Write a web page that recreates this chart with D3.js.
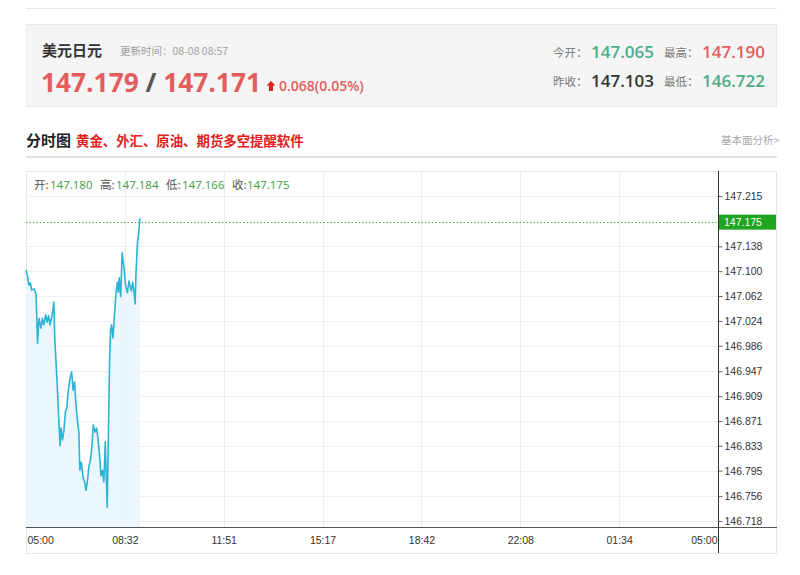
<!DOCTYPE html>
<html><head><meta charset="utf-8">
<script src="https://cdn.jsdelivr.net/npm/d3@7"></script>
<style>
html,body{margin:0;padding:0;background:#fff;}
svg{display:block;}
</style></head>
<body>
<svg id="c" width="800" height="575"></svg>
<script>
// ---- data ----
const xTickLabels = ["05:00","08:32","11:51","15:17","18:42","22:08","01:34","05:00"];
const yTickLabels = ["147.215","147.138","147.100","147.062","147.024","146.986","146.947","146.909","146.871","146.833","146.795","146.756","146.718"];
const lastPrice = 147.175;
// minutes after 05:00
const minutes = [0,3,6,9,12,17,21,24,27,31,34,37,41,44,47,50,53,56,58,60,65,68,71,73,76,79,82,85,88,92,95,98,101,104,107,110,112,115,119,122,125,128,131,134,137,140,144,147,150,153,156,159,162,165,169,172,174,176,178,181,184,187,190,192,194,197,200,204,207,211,214,219,222,225,227,229,232,234,236,237];
const prices = [147.102,147.093,147.079,147.082,147.071,147.073,147.065,146.990,147.028,147.013,147.028,147.018,147.033,147.022,147.032,147.018,147.028,147.041,147.053,146.995,146.926,146.877,146.833,146.860,146.842,146.857,146.885,146.891,146.918,146.938,146.946,146.918,146.931,146.895,146.872,146.854,146.796,146.808,146.784,146.778,146.765,146.781,146.802,146.811,146.830,146.865,146.854,146.860,146.842,146.819,146.787,146.796,146.778,146.839,146.739,146.872,146.964,147.010,147.018,146.998,147.032,147.064,147.083,147.068,147.090,147.061,147.128,147.105,147.079,147.067,147.085,147.070,147.083,147.067,147.050,147.099,147.145,147.154,147.171,147.181];
const infoLabels = ["开:","高:","低:","收:"];
const infoValues = ["147.180","147.184","147.166","147.175"];

const svg = d3.select("#c");
const CJK = "'Noto Sans CJK SC','Open Sans',sans-serif";
const NUM = "'Open Sans','Noto Sans CJK SC',sans-serif";
const RED = "#e35d5d", GREEN = "#4aad86";

// top rule
svg.append("line").attr("x1",26).attr("x2",777).attr("y1",8.5).attr("y2",8.5).attr("stroke","#e6e6e6");
// header box
svg.append("rect").attr("x",26.5).attr("y",24.5).attr("width",750).attr("height",82).attr("fill","#f5f5f5").attr("stroke","#e9e9e9");
svg.append("text").attr("x",42).attr("y",56).attr("font-family",CJK).attr("font-size",15).attr("font-weight",700).attr("fill","#333").text("美元日元");
svg.append("text").attr("x",120).attr("y",55).attr("font-family",CJK).attr("font-size",10.5).attr("fill","#a0a0a0").text("更新时间：08-08 08:57");
const big = svg.append("text").attr("x",41).attr("y",92).attr("font-family",NUM).attr("font-size",26.3).attr("font-weight",700);
big.append("tspan").attr("fill",RED).text("147.179");
big.append("tspan").attr("fill","#555").text(" / ");
big.append("tspan").attr("fill",RED).text("147.171");
// arrow
svg.append("path").attr("d","M271,81 L275.5,85.5 L273,85.5 L273,91 L269,91 L269,85.5 L266.5,85.5 Z").attr("fill","#e02020");
svg.append("text").attr("x",279).attr("y",91).attr("font-family",NUM).attr("font-size",14).attr("font-weight",600).attr("fill",RED).text("0.068(0.05%)");

function stat(x,y,label,val,col){
  svg.append("text").attr("x",x).attr("y",y).attr("font-family",CJK).attr("font-size",11.5).attr("fill","#777").text(label);
  svg.append("text").attr("x",x+38).attr("y",y+1).attr("font-family",NUM).attr("font-size",17).attr("font-weight",600).attr("fill",col).text(val);
}
stat(553,57,"今开：","147.065",GREEN);
stat(664,57,"最高：","147.190",RED);
stat(553,86,"昨收：","147.103","#333");
stat(664,86,"最低：","146.722",GREEN);

// section title
svg.append("text").attr("x",26).attr("y",146).attr("font-family",CJK).attr("font-size",15).attr("font-weight",700).attr("fill","#222").text("分时图");
svg.append("text").attr("x",76).attr("y",146).attr("font-family",CJK).attr("font-size",13.4).attr("font-weight",700).attr("fill","#e32020").text("黄金、外汇、原油、期货多空提醒软件");
svg.append("text").attr("x",721).attr("y",144).attr("font-family",CJK).attr("font-size",10.5).attr("fill","#a8a8a8").text("基本面分析>");
svg.append("line").attr("x1",26).attr("x2",777).attr("y1",157).attr("y2",157).attr("stroke","#e2e2e2").attr("stroke-width",2);

// chart panel
svg.append("rect").attr("x",26.5).attr("y",171.5).attr("width",750).attr("height",382).attr("fill","#fff").attr("stroke","#e8e8e8");

const L=26, R=718, T=171, B=527;
const x = d3.scaleLinear().domain([0,1440]).range([L,R]);
const y = d3.scaleLinear().domain([146.7104,147.2532]).range([B-1,T]);

const g = svg.append("g");
// grid
const xTickVals = xTickLabels.map((d,i)=>i*1440/(xTickLabels.length-1));
g.selectAll(".vg").data(xTickVals.slice(1,-1)).enter().append("line")
  .attr("x1",d=>Math.round(x(d))+0.5).attr("x2",d=>Math.round(x(d))+0.5).attr("y1",T).attr("y2",B)
  .attr("stroke","#ececec");
g.selectAll(".hg").data(yTickLabels).enter().append("line")
  .attr("x1",L).attr("x2",R).attr("y1",d=>Math.round(y(+d))+0.5).attr("y2",d=>Math.round(y(+d))+0.5)
  .attr("stroke","#eeeeee");

// area + line
const area = d3.area().x((d,i)=>x(minutes[i])).y0(B).y1(d=>y(d));
g.append("path").datum(prices).attr("d",area).attr("fill","#e8f6fc").attr("opacity",0.85);
const line = d3.line().x((d,i)=>x(minutes[i])).y(d=>y(d));
g.append("path").datum(prices).attr("d",line).attr("fill","none").attr("stroke","#2bb4d6").attr("stroke-width",1.6).attr("stroke-linejoin","round");

// last price dotted line
g.append("line").attr("x1",L).attr("x2",R).attr("y1",Math.round(y(lastPrice))+0.5).attr("y2",Math.round(y(lastPrice))+0.5)
  .attr("stroke","#44b044").attr("stroke-width",1).attr("stroke-dasharray","1.5,2");

// info row
const ixL = [34,100,166,232], ixV = [50,116,182,247];
infoLabels.forEach((lab,i)=>{
  svg.append("text").attr("x",ixL[i]).attr("y",189).attr("font-family",CJK).attr("font-size",11.5).attr("fill","#555").text(lab);
  svg.append("text").attr("x",ixV[i]).attr("y",189).attr("font-family",NUM).attr("font-size",11.5).attr("fill","#3a9e3a").text(infoValues[i]);
});

// y axis
const yAxis = d3.axisRight(y).tickValues(yTickLabels.map(Number)).tickFormat((d,i)=>yTickLabels[i]).tickSize(4).tickSizeOuter(0);
const ya = svg.append("g").attr("transform",`translate(${R+0.5},0)`).call(yAxis);
ya.select(".domain").remove();
ya.selectAll("line").attr("stroke","#666");
ya.selectAll("text").attr("font-family","'Liberation Sans',Arial,sans-serif").attr("font-size",10.5).attr("fill","#333").attr("x",6);
svg.append("line").attr("x1",R+0.5).attr("x2",R+0.5).attr("y1",T).attr("y2",553).attr("stroke","#333");

// x axis
const xAxis = d3.axisBottom(x).tickValues(xTickVals).tickFormat((d,i)=>xTickLabels[i]).tickSize(0).tickSizeOuter(0);
const xa = svg.append("g").attr("transform",`translate(0,${B+0.5})`).call(xAxis);
xa.select(".domain").remove();
xa.selectAll("text").attr("font-family","'Liberation Sans',Arial,sans-serif").attr("font-size",10.5).attr("fill","#333").attr("dy","1.25em")
  .attr("text-anchor",(d,i)=>i===0?"start":(i===xTickLabels.length-1?"end":"middle"))
  .attr("x",(d,i)=>i===0?1:(i===xTickLabels.length-1?-1:0));
svg.append("line").attr("x1",L).attr("x2",777).attr("y1",B+0.5).attr("y2",B+0.5).attr("stroke","#555");

// last price tag
const ty = y(lastPrice);
svg.append("rect").attr("x",R+1).attr("y",ty-7.5).attr("width",57).attr("height",15).attr("fill","#1fa51f");
svg.append("text").attr("x",R+6).attr("y",ty+4).attr("font-family","'Liberation Sans',Arial,sans-serif").attr("font-size",10.5).attr("fill","#fff").text(lastPrice.toFixed(3));
</script>
</body></html>
